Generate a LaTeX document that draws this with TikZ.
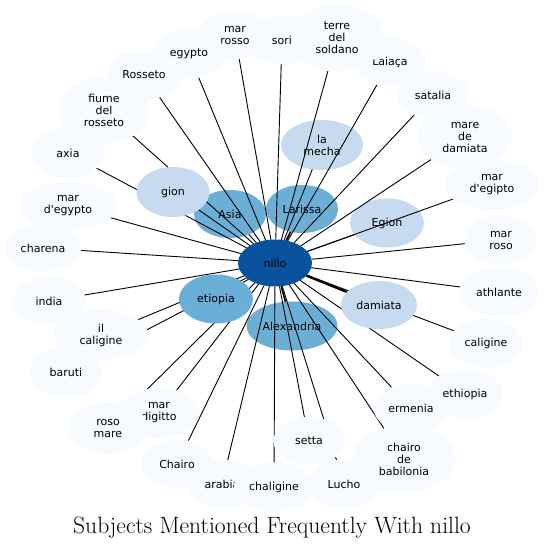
\documentclass[tikz,border=0pt]{standalone}
\usepackage{fontspec}
\newfontfamily\labelfont{DejaVu Sans}
\usetikzlibrary{shapes.geometric}
\definecolor{cdark}{RGB}{8,81,156}
\definecolor{cmid}{RGB}{107,174,214}
\definecolor{clight}{RGB}{198,219,239}
\definecolor{couter}{RGB}{247,251,255}
\pgfdeclarelayer{under}
\pgfdeclarelayer{lines}
\pgfsetlayers{under,lines,main}
\begin{document}
\begin{tikzpicture}[x=1pt,y=-1pt,
  ent/.style={ellipse,inner sep=0pt,outer sep=0pt,minimum width=72pt,minimum height=48pt,
    align=center,text=black,font=\labelfont\fontsize{11}{12}\selectfont},
  hub/.style={ent,fill=cdark},
  midn/.style={ent,fill=cmid},
  lightn/.style={ent,fill=clight},
  outern/.style={ent,fill=couter},
  link/.style={draw=black,line width=0.9pt},
  thicklink/.style={draw=black,line width=2.2pt},
  midlink/.style={draw=black,line width=1.6pt}]
\useasboundingbox (0,0) rectangle (544,549);
\begin{pgfonlayer}{under}
\fill[white] (0,0) rectangle (544,549);
\node[midn] (asia) at (230,214) {Asia};
\node[midn] (larissa) at (302,209) {Larissa};
\node[lightn,minimum width=82pt,minimum height=50pt] (lamecha) at (322,145) {la\\mecha};
\node[midn,minimum width=91pt,minimum height=49pt] (alex) at (292,326) {Alexandria};
\node[lightn,minimum width=74pt,minimum height=49pt] (egion) at (387,223) {Egion};
\node[hub,minimum width=74pt,minimum height=47pt] (nillo) at (275,263) {nillo};
\end{pgfonlayer}
% nodes above the connectors
\node[lightn,minimum width=73pt,minimum height=50pt] (gion) at (173,192) {gion};
\node[midn,minimum width=74pt,minimum height=49pt] (etiopia) at (216,299) {etiopia};
\node[lightn,minimum width=76pt,minimum height=48pt] (damiata) at (379,305) {damiata};
% outer ring
\node[outern,minimum width=71pt,minimum height=49pt] (laiaca) at (390,62) {Laiaça};
\node[outern,minimum width=96pt,minimum height=67pt] (terre) at (337,38) {terre\\del\\soldano};
\node[outern] (sori) at (282,40) {sori};
\node[outern] (marrosso) at (235,35) {mar\\rosso};
\node[outern,minimum height=49pt] (egypto) at (189,54) {egypto};
\node[outern,minimum width=76pt,minimum height=49pt] (rosseto) at (144,75) {Rosseto};
\node[outern,minimum width=90pt,minimum height=67pt] (fiume) at (104,110) {fiume\\del\\rosseto};
\node[outern,minimum height=50pt] (axia) at (68,153) {axia};
\node[outern,minimum width=98pt] (maregypto) at (68,206) {mar\\d'egypto};
\node[outern,minimum width=76pt,minimum height=47pt] (charena) at (43,248) {charena};
\node[outern,minimum width=73pt] (india) at (49,301) {india};
\node[outern,minimum width=94pt,minimum height=50pt] (ilcaligine) at (101,335) {il\\caligine};
\node[outern,minimum width=73pt,minimum height=50pt] (baruti) at (66,372) {baruti};
\node[outern,minimum width=81pt,minimum height=50pt] (mardigitto) at (159,413) {mar\\digitto};
\node[outern,minimum width=80pt,minimum height=52pt] (rosomare) at (108,428) {roso\\mare};
\node[outern,minimum height=49pt] (chairo) at (177,464) {Chairo};
\node[outern] (arabia) at (222,484) {arabia};
\node[outern,minimum width=80pt,minimum height=49pt] (chaligine) at (274,487) {chaligine};
\node[outern,minimum width=71pt] (setta) at (309,441) {setta};
\node[outern,minimum width=71pt,minimum height=49pt] (lucho) at (344,484) {Lucho};
\node[outern,minimum width=104pt,minimum height=66pt] (babilonia) at (404,459) {chairo\\de\\babilonia};
\node[outern,minimum width=75pt] (ermenia) at (411,408) {ermenia};
\node[outern,minimum width=76pt,minimum height=49pt] (ethiopia) at (465,394) {ethiopia};
\node[outern,minimum width=74pt,minimum height=49pt] (caligine) at (486,343) {caligine};
\node[outern,minimum width=79pt,minimum height=49pt] (athlante) at (499,292) {athlante};
\node[outern,minimum width=73pt,minimum height=49pt] (marroso) at (501,240) {mar\\roso};
\node[outern,minimum width=94pt,minimum height=50pt] (maregipto) at (492,185) {mar\\d'egipto};
\node[outern,minimum width=94pt,minimum height=65pt] (maredamiata) at (465,137) {mare\\de\\damiata};
\node[outern,minimum width=73pt,minimum height=47pt] (satalia) at (433,95) {satalia};
% connectors
\begin{pgfonlayer}{lines}
\foreach \t in {asia,lamecha,egion,gion,etiopia,laiaca,terre,sori,marrosso,egypto,rosseto,fiume,axia,maregypto,charena,india,ilcaligine,baruti,mardigitto,rosomare,chairo,arabia,chaligine,setta,lucho,babilonia,ermenia,ethiopia,caligine,athlante,marroso,maregipto,maredamiata,satalia}
  \draw[link] (nillo) -- (\t);
\draw[midlink] (nillo) -- (larissa);
\draw[midlink] (nillo) -- (alex);
\draw[thicklink] (nillo) -- (damiata);
\end{pgfonlayer}
\node[anchor=base,font=\fontsize{23.6}{28}\selectfont] (title) at (272,533) {Subjects Mentioned Frequently With nillo};
\end{tikzpicture}
\end{document}
